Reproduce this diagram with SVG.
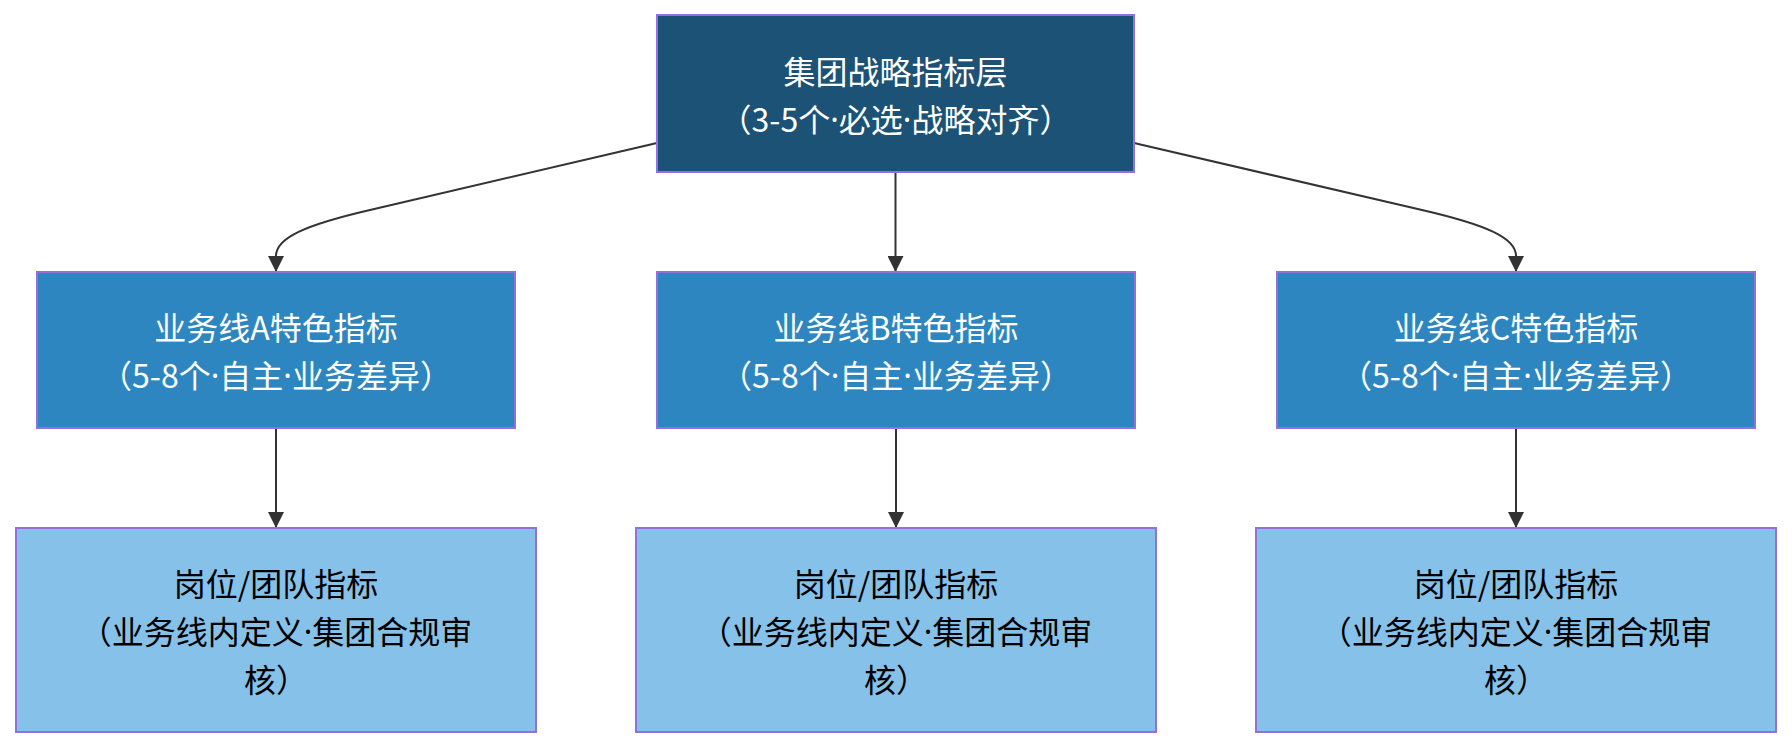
<svg xmlns="http://www.w3.org/2000/svg" width="1792" height="748" viewBox="0 0 1792 748">
  <style>
    .node rect { stroke: #9370db; stroke-width: 2; }
    .top rect { fill: #1b5276; }
    .mid rect { fill: #2e86c1; }
    .low rect { fill: #85c1e9; }
    .node text { font-family: "Noto Sans CJK SC", "Liberation Sans", sans-serif; font-size: 32px; text-anchor: middle; dominant-baseline: central; }
    .dot { font-family: "Noto Sans", "Liberation Sans", sans-serif; }
    .top text, .mid text { fill: #ffffff; }
    .low text { fill: #000000; }
    .edge { fill: none; stroke: #333333; stroke-width: 2; marker-end: url(#arrow); }
  </style>
  <defs>
    <marker id="arrow" viewBox="0 0 10 10" refX="10" refY="5" markerUnits="userSpaceOnUse" markerWidth="16" markerHeight="16" orient="auto">
      <path d="M0,0 L10,5 L0,10 z" fill="#333333"/>
    </marker>
  </defs>
  <rect width="1792" height="748" fill="#ffffff"/>
  <g id="connectors">
    <path class="edge" d="M657,143 L370,210 C305,225 276,238 276,256 L276,272"/>
    <path class="edge" d="M895.5,172 L895.5,272"/>
    <path class="edge" d="M1134,143 L1422,210 C1487,225 1516,238 1516,256 L1516,272"/>
    <path class="edge" d="M276,428 L276,528"/>
    <path class="edge" d="M896,428 L896,528"/>
    <path class="edge" d="M1516,428 L1516,528"/>
  </g>
  <g id="group-strategy" class="node top">
    <rect x="657" y="15" width="477" height="157"/>
    <text x="895.5" y="69.5">集团战略指标层</text>
    <text x="895.5" y="117.5">（3-5个<tspan class="dot">·</tspan>必选<tspan class="dot">·</tspan>战略对齐）</text>
  </g>
  <g id="line-a" class="node mid">
    <rect x="37" y="272" width="478" height="156"/>
    <text x="276" y="326">业务线A特色指标</text>
    <text x="276" y="374">（5-8个<tspan class="dot">·</tspan>自主<tspan class="dot">·</tspan>业务差异）</text>
  </g>
  <g id="line-b" class="node mid">
    <rect x="657" y="272" width="478" height="156"/>
    <text x="896" y="326">业务线B特色指标</text>
    <text x="896" y="374">（5-8个<tspan class="dot">·</tspan>自主<tspan class="dot">·</tspan>业务差异）</text>
  </g>
  <g id="line-c" class="node mid">
    <rect x="1277" y="272" width="478" height="156"/>
    <text x="1516" y="326">业务线C特色指标</text>
    <text x="1516" y="374">（5-8个<tspan class="dot">·</tspan>自主<tspan class="dot">·</tspan>业务差异）</text>
  </g>
  <g id="team-a" class="node low">
    <rect x="16" y="528" width="520" height="204"/>
    <text x="276" y="582">岗位/团队指标</text>
    <text x="276" y="630">（业务线内定义<tspan class="dot">·</tspan>集团合规审</text>
    <text x="276" y="678">核）</text>
  </g>
  <g id="team-b" class="node low">
    <rect x="636" y="528" width="520" height="204"/>
    <text x="896" y="582">岗位/团队指标</text>
    <text x="896" y="630">（业务线内定义<tspan class="dot">·</tspan>集团合规审</text>
    <text x="896" y="678">核）</text>
  </g>
  <g id="team-c" class="node low">
    <rect x="1256" y="528" width="520" height="204"/>
    <text x="1516" y="582">岗位/团队指标</text>
    <text x="1516" y="630">（业务线内定义<tspan class="dot">·</tspan>集团合规审</text>
    <text x="1516" y="678">核）</text>
  </g>
</svg>
